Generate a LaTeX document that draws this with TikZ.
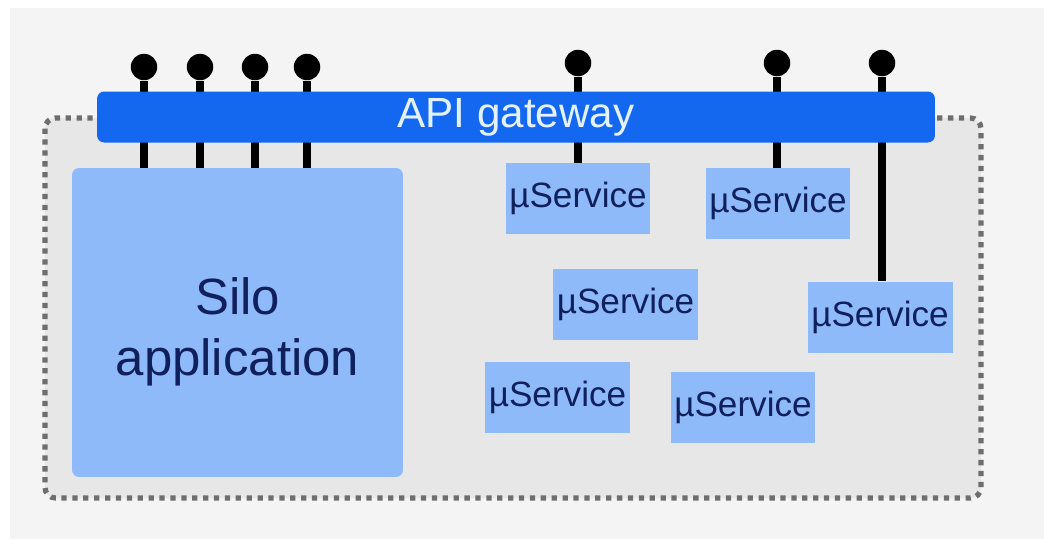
\documentclass[tikz,border=0pt]{standalone}
\usepackage{fontspec}
\setmainfont{Liberation Sans}
\definecolor{gwblue}{RGB}{20,104,240}
\definecolor{svcblue}{RGB}{142,186,250}
\definecolor{navyink}{RGB}{16,32,92}
\definecolor{pagegray}{RGB}{244,244,244}
\definecolor{zonegray}{RGB}{231,231,231}

\begin{document}
\begin{tikzpicture}[x=0.02cm, y=-0.02cm,
    svcbox/.style={rectangle, fill=svcblue, minimum width=2.9cm, minimum height=1.42cm,
                inner sep=0pt, text=navyink, font=\fontsize{20}{24}\selectfont},
    silobox/.style={rectangle, fill=svcblue, rounded corners=4pt, minimum width=6.62cm,
                minimum height=6.18cm, inner sep=0pt, text=navyink,
                font=\fontsize{29}{35}\selectfont},
    gatebox/.style={rectangle, fill=gwblue, rounded corners=4pt, minimum width=16.76cm,
                minimum height=1.02cm, inner sep=0pt, text={rgb,255:red,228;green,242;blue,255},
                font=\fontsize{24}{28}\selectfont},
    pin/.style={circle, fill=black, minimum size=0.53cm, inner sep=0pt},
    stem/.style={line width=4.3pt}]

    % page and zone
    \fill[white] (0,0) rectangle (1044,539);
    \fill[pagegray] (10,8) rectangle (1044,539);
    \draw[draw={rgb,255:red,110;green,110;blue,110}, fill=zonegray, line width=3pt,
          dash pattern=on 3pt off 3.2pt, rounded corners=6pt] (45,118) rectangle (981,498);

    % blocks
    \node[silobox] (silo) at (237.5,322.5)
        {\raisebox{-5.7pt}[\height][\depth]{\begin{tabular}{@{}c@{}}Silo\\application\end{tabular}}};
    \node[svcbox] (svca) at (578,198.5) {µService};
    \node[svcbox] (svcb) at (778,203.5) {µService};
    \node[svcbox] (svcc) at (625.5,304) {µService};
    \node[svcbox] (svcd) at (880,317) {µService};
    \node[svcbox] (svce) at (557.5,397.5) {µService};
    \node[svcbox] (svcf) at (743,407.5) {µService};

    % endpoints
    \node[pin] (pina) at (144,67) {};
    \node[pin] (pinb) at (200,67) {};
    \node[pin] (pinc) at (255,67) {};
    \node[pin] (pind) at (307,67) {};
    \node[pin] (pine) at (578,63) {};
    \node[pin] (pinf) at (777,63) {};
    \node[pin] (ping) at (882,63) {};

    \draw[stem] (pina) -- (pina |- silo.north);
    \draw[stem] (pinb) -- (pinb |- silo.north);
    \draw[stem] (pinc) -- (pinc |- silo.north);
    \draw[stem] (pind) -- (pind |- silo.north);
    \draw[stem] (pine) -- (pine |- svca.north);
    \draw[stem] (pinf) -- (pinf |- svcb.north);
    \draw[stem] (ping) -- (ping |- svcd.north);

    \node[gatebox] (gateway) at (516,117) {API gateway};
\end{tikzpicture}
\end{document}
